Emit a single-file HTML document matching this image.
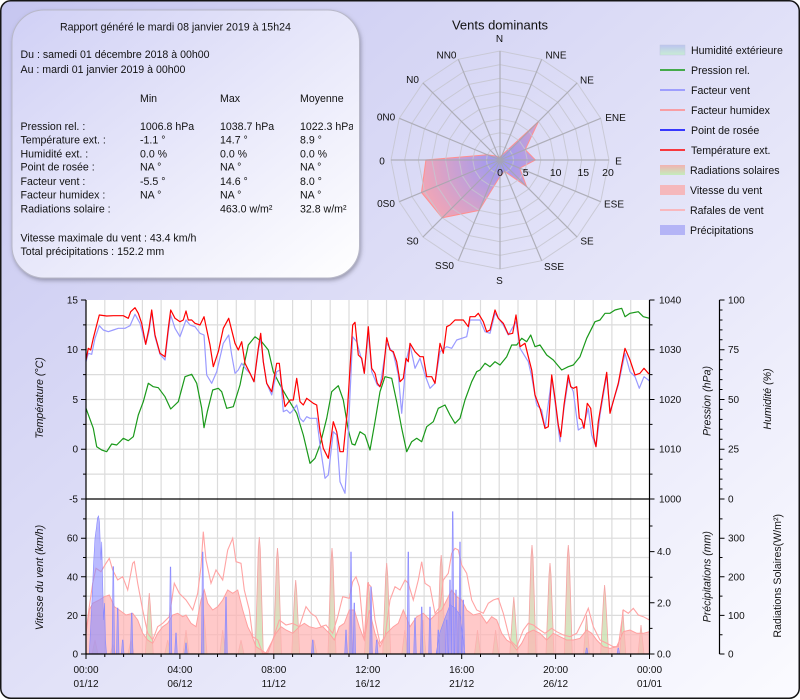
<!DOCTYPE html>
<html><head><meta charset="utf-8">
<style>
html,body{margin:0;padding:0;background:#fff;}
svg{display:block;font-family:"Liberation Sans",Arial,sans-serif;}
</style></head><body>
<svg width="800" height="700" viewBox="0 0 800 700" xmlns="http://www.w3.org/2000/svg">
<defs>
<linearGradient id="bg" x1="0" y1="0" x2="1" y2="1">
<stop offset="0" stop-color="#c6c6f0"/><stop offset="1" stop-color="#fbfbff"/>
</linearGradient>
<linearGradient id="box" x1="0" y1="0" x2="1" y2="1">
<stop offset="0" stop-color="#d0d0f5"/><stop offset="1" stop-color="#ffffff"/>
</linearGradient>
<filter id="sh" x="-10%" y="-10%" width="120%" height="120%"><feDropShadow dx="1" dy="2" stdDeviation="2" flood-color="#606070" flood-opacity="0.55"/></filter>
<radialGradient id="rose" cx="500" cy="160" r="85" gradientUnits="userSpaceOnUse">
<stop offset="0" stop-color="#9a9af5"/><stop offset="1" stop-color="#f4a6b4"/>
</radialGradient>
<linearGradient id="sol" x1="0" y1="540" x2="0" y2="654" gradientUnits="userSpaceOnUse">
<stop offset="0" stop-color="#f8b0b0"/><stop offset="1" stop-color="#c0eab0"/>
</linearGradient>
<linearGradient id="lg1" x1="0" y1="0" x2="0" y2="1">
<stop offset="0" stop-color="#bcc4f0"/><stop offset="1" stop-color="#c8ecd4"/>
</linearGradient>
<linearGradient id="lg7" x1="0" y1="0" x2="0" y2="1">
<stop offset="0" stop-color="#f2b2b2"/><stop offset="1" stop-color="#c4ecbc"/>
</linearGradient>
<polygon id="g16" points="0,-1 .3827,-.9239 .7071,-.7071 .9239,-.3827 1,0 .9239,.3827 .7071,.7071 .3827,.9239 0,1 -.3827,.9239 -.7071,.7071 -.9239,.3827 -1,0 -.9239,-.3827 -.7071,-.7071 -.3827,-.9239" fill="none" stroke="#c6c6d0" stroke-width="1" vector-effect="non-scaling-stroke"/>
<clipPath id="cu"><rect x="86" y="300" width="563.5" height="199"/></clipPath>
<clipPath id="cl"><rect x="86" y="499" width="563.5" height="155"/></clipPath>
<clipPath id="cb"><rect x="12" y="10" width="341" height="270"/></clipPath>
</defs>

<!-- outer frame -->
<rect x="0.75" y="0.75" width="798.5" height="697.5" rx="10" fill="url(#bg)" stroke="#151515" stroke-width="1.5"/>

<!-- info box -->
<rect x="12" y="10" width="347.5" height="268" rx="32" fill="url(#box)" stroke="#b8b8c8" stroke-width="1" filter="url(#sh)"/>
<g font-size="10.6" fill="#111" clip-path="url(#cb)">
<text x="60" y="30.5">Rapport généré le mardi 08 janvier 2019 à 15h24</text>
<text x="20.5" y="58">Du : samedi 01 décembre 2018 à 00h00</text>
<text x="20.5" y="73">Au : mardi 01 janvier 2019 à 00h00</text>
<text x="140" y="102">Min</text><text x="220" y="102">Max</text><text x="300" y="102">Moyenne</text>
<text x="20.5" y="130">Pression rel. :</text><text x="140" y="130">1006.8 hPa</text><text x="220" y="130">1038.7 hPa</text><text x="300" y="130">1022.3 hPa</text>
<text x="20.5" y="143.3">Température ext. :</text><text x="140" y="143.3">-1.1 °</text><text x="220" y="143.3">14.7 °</text><text x="300" y="143.3">8.9 °</text>
<text x="20.5" y="157.3">Humidité ext. :</text><text x="140" y="157.3">0.0 %</text><text x="220" y="157.3">0.0 %</text><text x="300" y="157.3">0.0 %</text>
<text x="20.5" y="170.7">Point de rosée :</text><text x="140" y="170.7">NA °</text><text x="220" y="170.7">NA °</text><text x="300" y="170.7">NA °</text>
<text x="20.5" y="185">Facteur vent :</text><text x="140" y="185">-5.5 °</text><text x="220" y="185">14.6 °</text><text x="300" y="185">8.0 °</text>
<text x="20.5" y="198.3">Facteur humidex :</text><text x="140" y="198.3">NA °</text><text x="220" y="198.3">NA °</text><text x="300" y="198.3">NA °</text>
<text x="20.5" y="212.3">Radiations solaire :</text><text x="220" y="212.3">463.0 w/m²</text><text x="300" y="212.3">32.8 w/m²</text>
<text x="20.5" y="241.7">Vitesse maximale du vent : 43.4 km/h</text>
<text x="20.5" y="255">Total précipitations : 152.2 mm</text>
</g>

<!-- wind rose -->
<text x="500" y="29.5" font-size="13" text-anchor="middle" fill="#111">Vents dominants</text>
<polygon points="500,157.3 502.1,155 538.5,121.5 525.2,149.6 535.4,160 519.7,168.2 526.6,186.6 504.8,171.5 500,176.4 479.1,210.4 442.2,217.8 421.5,192.5 425.9,160 487.4,154.8 496.1,156.1 499,157.5" fill="url(#rose)" stroke="#ff9090" stroke-width="1"/>
<g opacity="0.85">
<use href="#g16" transform="translate(500 160) scale(13.625)"/>
<use href="#g16" transform="translate(500 160) scale(27.25)"/>
<use href="#g16" transform="translate(500 160) scale(40.875)"/>
<use href="#g16" transform="translate(500 160) scale(54.5)"/>
<use href="#g16" transform="translate(500 160) scale(68.125)"/>
<use href="#g16" transform="translate(500 160) scale(81.75)"/>
<use href="#g16" transform="translate(500 160) scale(95.375)"/>
<use href="#g16" transform="translate(500 160) scale(109)"/>
<path d="M500,160L500,51M500,160L541.7,59.3M500,160L577.1,82.9M500,160L600.7,118.3M500,160L609,160M500,160L600.7,201.7M500,160L577.1,237.1M500,160L541.7,260.7M500,160L500,269M500,160L458.3,260.7M500,160L422.9,237.1M500,160L399.3,201.7M500,160L391,160M500,160L399.3,118.3M500,160L422.9,82.9M500,160L458.3,59.3" stroke="#a6a6ae" stroke-width="1.2" fill="none"/>
</g>
<g font-size="10" text-anchor="middle" fill="#111">
<text x="499.5" y="42">N</text>
<text x="556" y="58.5">NNE</text>
<text x="587" y="83.5">NE</text>
<text x="615.5" y="121">ENE</text>
<text x="618.5" y="164.5">E</text>
<text x="614" y="207.5">ESE</text>
<text x="587" y="244.5">SE</text>
<text x="554" y="270">SSE</text>
<text x="499.5" y="284">S</text>
<text x="444.5" y="269">SS0</text>
<text x="412.5" y="244.5">S0</text>
<text x="386" y="207">0S0</text>
<text x="382" y="164.5">0</text>
<text x="386" y="120.5">0N0</text>
<text x="412.5" y="83">N0</text>
<text x="446.5" y="58.5">NN0</text>
</g>
<g font-size="10.5" text-anchor="middle" fill="#111">
<text x="500" y="176">0</text><text x="525.7" y="176">5</text><text x="555.7" y="176">10</text><text x="583.3" y="176">15</text><text x="608" y="176">20</text>
</g>

<!-- legend -->
<rect x="660" y="45" width="25" height="10" fill="url(#lg1)" stroke="#c0c8e0" stroke-width="0.5"/>
<line x1="660" y1="70" x2="685" y2="70" stroke="#119911" stroke-width="1.5"/>
<line x1="660" y1="90" x2="685" y2="90" stroke="#8888ff" stroke-width="1.5"/>
<line x1="660" y1="110" x2="685" y2="110" stroke="#ff8888" stroke-width="1.5"/>
<line x1="660" y1="130" x2="685" y2="130" stroke="#0000ff" stroke-width="1.5"/>
<line x1="660" y1="150" x2="685" y2="150" stroke="#ff0000" stroke-width="1.5"/>
<rect x="660" y="165" width="25" height="10" fill="url(#lg7)"/>
<rect x="660" y="185" width="25" height="10" fill="#f5b8bc"/>
<line x1="660" y1="210" x2="685" y2="210" stroke="#ffaaaa" stroke-width="1.5"/>
<rect x="660" y="225" width="25" height="10" fill="#b4b4f6"/>
<g font-size="10.6" fill="#111">
<text x="691" y="53.8">Humidité extérieure</text>
<text x="691" y="73.8">Pression rel.</text>
<text x="691" y="93.8">Facteur vent</text>
<text x="691" y="113.8">Facteur humidex</text>
<text x="691" y="133.8">Point de rosée</text>
<text x="691" y="153.8">Température ext.</text>
<text x="690" y="173.8">Radiations solaires</text>
<text x="690" y="193.8">Vitesse du vent</text>
<text x="690" y="213.8">Rafales de vent</text>
<text x="690" y="233.8">Précipitations</text>
</g>

<!-- plot backgrounds -->
<rect x="86" y="300" width="563.5" height="354" fill="#ffffff"/>
<!-- grid -->
<path d="M104.8,300V654M123.6,300V654M142.4,300V654M161.1,300V654M179.9,300V654M198.7,300V654M217.5,300V654M236.3,300V654M255.1,300V654M273.8,300V654M292.6,300V654M311.4,300V654M330.2,300V654M349,300V654M367.8,300V654M386.5,300V654M405.3,300V654M424.1,300V654M442.9,300V654M461.7,300V654M480.5,300V654M499.2,300V654M518,300V654M536.8,300V654M555.6,300V654M574.4,300V654M593.2,300V654M611.9,300V654M630.7,300V654M86,324.9H649.5M86,349.75H649.5M86,374.6H649.5M86,399.5H649.5M86,424.4H649.5M86,449.25H649.5M86,474.1H649.5M86,518.9H649.5M86,538.2H649.5M86,557.5H649.5M86,576.8H649.5M86,596.1H649.5M86,615.4H649.5M86,634.7H649.5" stroke="#dcdcdc" stroke-width="1.2" fill="none"/>

<!-- lower panel -->
<g clip-path="url(#cl)">
<path d="M92,654L95,640L98,654ZM110,654L113,645L116,654ZM128,654L131,640L134,654ZM145.3,654L148.3,605L149.3,593L150.3,605L153.3,654ZM164.7,654L167.7,640L170.7,654ZM183,654L186,630L189,654ZM201,654L203,627L204,615L205,627L207,654ZM219.7,654L222.7,630L225.7,654ZM238,654L241,640L244,654ZM255.3,654L258.3,549L259.3,537L260.3,549L263.3,654ZM273.5,654L276.5,560L277.5,548L278.5,560L281.5,654ZM291.7,654L294.7,592L295.7,580L296.7,592L299.7,654ZM311,654L314,640L317,654ZM328,654L331,560L332,548L333,560L336,654ZM347.3,654L350.3,610L353.3,654ZM364.5,654L367.5,594L368.5,582L369.5,594L372.5,654ZM382.7,654L385.7,575L386.7,563L387.7,575L390.7,654ZM401.8,654L404.8,630L407.8,654ZM420,654L423,620L426,654ZM437.2,654L440.2,567L441.2,555L442.2,567L445.2,654ZM456.3,654L459.3,600L462.3,654ZM474.5,654L477.5,630L480.5,654ZM492.6,654L495.6,630L498.6,654ZM509.8,654L512.8,609L513.8,597L514.8,609L517.8,654ZM528,654L531,557L532,545L533,557L536,654ZM546,654L549,575L550,563L551,575L554,654ZM564.3,654L567.3,557L568.3,545L569.3,557L572.3,654ZM583.5,654L586.5,615L589.5,654ZM600.6,654L603.6,597L604.6,585L605.6,597L608.6,654ZM619.8,654L622.8,610L625.8,654ZM638,654L641,625L644,654Z" fill="url(#sol)" fill-opacity="0.8" stroke="#f4a4a4" stroke-width="0.8"/>
<path d="M86,654L86,633.3L89.3,610L92.7,603.3L99.3,600L104.3,596.7L109.3,595L114.3,606.7L119.3,610L126,615L132.7,613.3L137.7,620L142.7,633.3L147.7,640L152.7,643.3L157.7,633.3L162.7,626.7L167.7,623.3L172.7,615L177.7,613.3L182.7,616.7L186,615L191,623.3L196,626.7L201,600L204.3,590L207.7,603.3L212.7,610L217.7,606.7L222.7,600L227.7,590L232.7,593.3L237.7,590L242.7,610L247.7,626.7L251,633.3L256,646.7L261,650L266,653L271,643.3L276,633.3L281,626.7L286,630L292.7,633.3L299.3,626.7L304.3,623.3L309.3,626.7L316,628.3L322.7,626.7L329.3,633.3L334.3,640L339.3,626.7L344.3,623.3L349.3,610L354.3,610L359.3,626.7L364.3,640L369.3,610L375,633.3L380,646.7L386.7,633.3L393.3,626.7L398.3,623.3L403.3,610L410,626.7L416.7,616.7L423.3,613.3L430,620L436.7,613.3L441.7,610L446.7,600L451.7,590L456.7,596.7L461.7,600L466.7,610L473.3,615L480,613.3L486.7,623.3L491.7,616.7L496.7,620L501.7,633.3L506.7,640L511.7,643.3L516.7,650L521.7,643.3L526.7,633.3L533.3,630L540,633.3L546.7,640L553.3,633.3L560,636.7L566.7,640L573.3,640L580,638.3L586.7,630L591.7,633.3L596.7,640L603.3,646.7L610,648.3L616.7,646.7L623.3,631.7L630,630L636.7,633.3L643.3,633.3L649.5,631.7L649.5,654Z" fill="#ffb4b4" fill-opacity="0.72" stroke="#ffa0a0" stroke-width="1"/>
<path d="M86,631.7L89.3,606.7L92.7,583.3L96,568.3L101,571.7L106,563.3L109.3,558.3L112.7,570L117.7,580L122.7,576.7L127.7,590L132.7,563.3L134.3,561.7L137.7,583.3L142.7,610L147.7,633.3L152.7,640L157.7,626.7L162.7,623.3L169.3,616.7L174.3,583.3L179.3,593.3L186,600L192.7,610L197.7,593.3L201,566.7L203.3,531.7L206,560L211,583.3L216,570L222.7,580L227.7,550L232.7,538.3L236,561.7L241,563.3L244.3,590L249.3,610L252.7,636.7L257.7,640L262.7,653.3L267.7,653.3L272.7,640L279.3,620L286,625L292.7,623.3L299.3,626.7L306,606.7L311,613.3L316,616.7L321,626.7L326,625L332.7,633.3L337.7,616.7L342.7,596.7L349.3,598.3L352.7,581.7L356,576.7L359.3,586.7L364.3,640L367.7,583.3L371,586.7L375,620L380,643.3L385,636.7L390,600L395,586.7L400,590L405,580L408.3,583.3L413.3,600L418.3,580L421.7,561.7L425,583.3L430,586.7L435,613.3L440,606.7L443.3,580L448.3,573.3L451.7,553.3L455,548.3L458.3,550L461.7,565L466.7,573.3L471.7,600L476.7,610L483.3,613.3L488.3,603.3L493.3,600L498.3,598.3L503.3,613.3L510,640L516.7,646.7L523.3,630L528.3,623.3L533.3,625L540,630L545,633.3L551.7,628.3L556.7,631.7L563.3,635L570,636.7L576.7,633.3L583.3,620L588.3,608.3L593.3,626.7L600,640L606.7,643.3L613.3,646.7L618.3,646.7L623.3,610L628.3,613.3L633.3,608.3L638.3,615L643.3,616.7L649.5,620" fill="none" stroke="#ffa4a4" stroke-width="1.1"/>
<path d="M89.3,654L90.5,630L92,600L93.5,565L95,538L96.5,527L97.5,518L98.5,516L99.5,522L100.3,545L101,560L101.7,541.7L102.5,575L103.5,620L104.5,603L105.5,640L106.5,654ZM112,654L113,566.7L113.6,566.7L114.6,654ZM116.4,654L117.4,608L118,608L119,654ZM121.4,654L122.4,640L123,640L124,654ZM130.4,654L131.4,613L132,613L133,654ZM169.2,654L170.2,567L170.8,567L171.8,654ZM174.7,654L175.7,633L176.3,633L177.3,654ZM184.7,654L185.7,643L186.3,643L187.3,654ZM201.4,654L202.4,552L203,552L204,654ZM224.7,654L225.7,597L226.3,597L227.3,654ZM311.4,654L312.4,640L313,640L314,654ZM344.7,654L345.7,630L346.3,630L347.3,654ZM349.7,654L350.7,552L351.3,552L352.3,654ZM353,654L354,603L354.6,603L355.6,654ZM369.7,654L370.7,587L371.3,587L372.3,654ZM375.4,654L376.4,640L377,640L378,654ZM407,654L408,552L408.6,552L409.6,654ZM413.7,654L414.7,618L415.3,618L416.3,654ZM420.4,654L421.4,607L422,607L423,654ZM428.7,654L429.7,607L430.3,607L431.3,654ZM437,654L438,630L438.6,630L439.6,654ZM445.4,654L446.4,620L447,620L448,654ZM448.7,654L449.7,580L450.3,580L451.3,654ZM451.4,654L452.4,511.7L453,511.7L454,654ZM454.7,654L455.7,590L456.3,590L457.3,654ZM458.7,654L459.7,542L460.3,542L461.3,654ZM462,654L463,600L463.6,600L464.6,654ZM585.4,654L586.4,648L587,648L588,654ZM617,654L618,648L618.6,648L619.6,654ZM436,654L440,632L445,618L450,605L455,608L460,615L465,654Z" fill="#8c8cff" fill-opacity="0.6" stroke="#8888ff" stroke-width="0.6"/>
</g>

<!-- upper panel series -->
<g clip-path="url(#cu)" fill="none" stroke-width="1.2" stroke-linejoin="round">
<path stroke="#1a991a" d="M86,408.3L93.3,428.3L96.7,446.7L101.7,450L106.7,451.7L111.7,444L116.7,445L123.3,438.3L128.3,440.7L133.3,436.7L138.3,415L143.3,401.7L148.3,383.3L153.3,386.7L158.3,387.7L165,396.7L170.7,409L178.3,401.7L185,376.7L191.7,374.3L196.7,383.3L201.7,408.3L204,427.7L207.3,411.7L212.7,390L218.3,388.3L221.7,391.7L226.7,408.3L233.3,406.7L240,385L243.3,368.3L248.3,345L255,336.7L261.7,341.7L268.3,350L273.3,371.7L280,385L286.7,396.7L296.7,413.3L303.3,435L310,463.3L315,458.3L320,445L326.7,418.3L331.7,391.7L338.3,385.7L343.3,400L348.3,430L352,444L355,445L360,431.7L365,435L370,450L375,421.7L380,391.7L385,376.7L391.7,378.3L396.7,401.7L401.7,428.3L406.7,451.7L411.7,441.7L416.7,438.3L421.7,441.7L426.7,426.7L433.3,421.7L438.3,408.3L445,405L450,415L455,423.3L460,418.3L465,400L471.7,381.7L476.7,371.7L480,370L485,363.3L490,366.7L495,361.7L500,365L506.7,356.7L511.7,345L516.7,345L521.7,338.3L526.7,341.7L530.7,335L535,346.7L540,345L546.7,355L553.3,360L561.7,370L568.3,366.7L573.3,365L580,356.7L586.7,338.3L595,321.7L600,320L605,313.3L610,313.3L615,310L621.7,308.3L625,316.7L630,313.3L638.3,311.7L643.3,316.7L649.5,318.3"/>
<path stroke="#9a9aff" d="M86,361.7L88.3,353.3L91.7,354.3L95,338.3L99.3,325.7L103.3,330L108.3,331.7L113.3,330L118.3,328.3L125,328.3L130,325.7L135,314.3L140,323.3L145.7,344.3L149,331.7L151.7,311.7L155,336.7L160,354.3L165,360L168.3,331.7L170.7,315L175,328.3L180,336.7L186,320L190,325L195,326.7L200,333.3L204,335L206.7,375L211.7,383.3L216.7,371.7L223.3,343.3L228.7,335L231.7,355L235,373.3L238.3,370L241.7,363.3L246.7,370L250,373.3L254,381.7L258.3,350L260.7,338.3L263.3,361.7L266.7,383.3L271.7,395L276.7,371.7L280,370L283.3,411.7L286.7,410L290,413.3L293.3,410L296.7,405L300,418.3L303.3,421.7L306.7,416.7L310,418.3L316.7,418.3L320,445L325,478.3L328.3,475L333.3,431.7L336.7,435L340,481.7L345,493.3L347.3,455L350,395L352.7,336.7L356.7,341.7L361.7,360L364.3,373.3L368.3,331.7L371.7,371.7L377.3,385L380,386.7L386.7,343.3L393.3,353.3L398.3,375L401.7,413.3L406,361.7L410,345L415,368.3L420,358.3L425,375L430,388.3L435,383.3L440,351.7L446.7,346.7L451.7,348.3L456.7,340L466.7,336.7L470,320L480,320L485,331.7L490,333.3L495,313.3L503.3,325L508.3,335L516,321.7L520,348.3L528.3,361.7L531.7,376.7L536.7,405L541.7,410L545,428.3L551.7,378.3L555,401.7L560,441.7L564,408.3L568.3,380L573.3,391.7L578.3,430L583.3,426.7L588.3,408.3L591.7,435L596,446.7L600,415L606.7,375L610,411.7L618.3,385L625,353.3L630,371.7L635,376.7L639.3,388.3L644,376.7L648.3,380L649.5,381"/>
<path stroke="#ff0000" d="M86,360L88.3,348.3L90.7,350L93.3,338.3L96.7,325L99.3,315L106.7,316L113.3,315.7L123.3,315.7L128.3,318.3L130.7,311.7L135,307.7L138.3,313.3L141.7,323.3L145.7,344.3L149,328.3L151.7,310L155,335L160,353.3L165,356.7L168.3,328.3L170.7,310L175,318.3L180,321.7L183.3,320L186,311L188.3,320L191.7,320L195,323.3L200,325L204,316.7L210,345L213.3,366.7L218.3,351.7L223.3,328.3L228.7,318.3L235,343.3L238.3,350L241.7,341.7L245,363.3L250,373.3L254,381.7L258.3,348.3L260.7,333.3L263.3,361.7L266.7,383.3L271.7,391.7L276.7,363.3L279.3,363.3L281.7,385L285,406.7L290,400L293.3,400L296.7,378.3L300,401.7L303.3,405L306.7,398.3L313.3,403.3L316.7,405L320,431.7L323.3,448.3L328.3,458.3L333.3,421.7L336.7,431.7L340,451.7L343.3,451.7L347.3,411.7L352.7,325L355,322.3L358.3,355L361.7,358.3L364.3,373.3L368.3,326.7L371.7,368.3L375,373.3L377.3,383.3L380,386.7L382.7,378.3L386.7,337.7L390,350L393.3,351.7L396.7,361.7L400,381.7L403.3,378.3L406,358.3L408.3,361.7L410,343.3L415,351.7L420,356.7L423.3,356.7L426.7,376.7L431.7,376.7L435,383.3L440,343.3L443.3,353.3L446.7,326.7L450,325L455,320L463.3,320L468.3,326.7L470,316.7L475,316.7L478.3,313.3L483.3,321.7L486.7,331.7L490,330L495,310L498.3,318.3L503.3,323.3L508.3,334.3L512.7,333.3L516,315L520,346.7L525,343.3L528.3,356.7L531.7,370L535,395L540,408.3L545,428.3L548.3,426.7L551.7,375L555,398.3L558.3,425L560.7,436.7L564,405L568.3,375L570.7,386.7L573.3,388.3L576.7,386.7L579.3,418.3L581.7,420L584,428.3L587.3,403.3L590.7,408.3L594,438.3L596,446.7L598.3,421.7L603.3,391.7L606.7,372.3L610,413.3L615,395L618.3,383.3L621.7,365L625,348.3L630,360L635,375L640,373.3L644,368.3L648.3,373.3L649.5,374"/>
</g>

<!-- axes -->
<path d="M86,300V654M649.5,300V654M719.5,300V654M86,499H649.5M86,654H649.5" stroke="#000" stroke-width="1.2" fill="none"/>
<path d="M81,300H86M81,349.75H86M81,399.5H86M81,449.25H86M81,499H86M83,324.9H86M83,374.6H86M83,424.4H86M83,474.1H86M81,538.2H86M81,576.8H86M81,615.4H86M81,654H86M83,518.9H86M83,557.5H86M83,596.1H86M83,634.7H86M649.5,300H654.5M649.5,349.75H654.5M649.5,399.5H654.5M649.5,449.25H654.5M649.5,499H654.5M649.5,324.9H652.5M649.5,374.6H652.5M649.5,424.4H652.5M649.5,474.1H652.5M649.5,654H654.5M649.5,602.8H654.5M649.5,551.6H654.5M649.5,628.4H652.5M649.5,577.2H652.5M649.5,526H652.5M719.5,300H724.5M719.5,349.75H724.5M719.5,399.5H724.5M719.5,449.25H724.5M719.5,499H724.5M719.5,310H722.5M719.5,320H722.5M719.5,329.9H722.5M719.5,339.8H722.5M719.5,359.7H722.5M719.5,369.6H722.5M719.5,379.6H722.5M719.5,389.5H722.5M719.5,409.4H722.5M719.5,419.4H722.5M719.5,429.3H722.5M719.5,439.3H722.5M719.5,459.2H722.5M719.5,469.1H722.5M719.5,479.1H722.5M719.5,489H722.5M719.5,654H724.5M719.5,615.4H724.5M719.5,576.8H724.5M719.5,538.2H724.5M719.5,634.7H722.5M719.5,596.1H722.5M719.5,557.5H722.5M719.5,518.9H722.5M86,654V659M179.9,654V659M273.8,654V659M367.8,654V659M461.7,654V659M555.6,654V659M649.5,654V659M104.8,654V657M123.6,654V657M142.4,654V657M161.1,654V657M198.7,654V657M217.5,654V657M236.3,654V657M255.1,654V657M292.6,654V657M311.4,654V657M330.2,654V657M349,654V657M386.5,654V657M405.3,654V657M424.1,654V657M442.9,654V657M480.5,654V657M499.2,654V657M518,654V657M536.8,654V657M574.4,654V657M593.2,654V657M611.9,654V657M630.7,654V657" stroke="#000" stroke-width="1" fill="none"/>

<!-- tick labels -->
<g font-size="10" fill="#111">
<g text-anchor="end">
<text x="78" y="303.5">15</text><text x="78" y="353.2">10</text><text x="78" y="403">5</text><text x="78" y="452.7">0</text><text x="78" y="502.5">-5</text>
<text x="78" y="541.7">60</text><text x="78" y="580.3">40</text><text x="78" y="618.9">20</text><text x="78" y="657.5">0</text>
</g>
<text x="659" y="303.5">1040</text><text x="659" y="353.2">1030</text><text x="659" y="403">1020</text><text x="659" y="452.7">1010</text><text x="659" y="502.5">1000</text>
<text x="657" y="555.1">4.0</text><text x="657" y="606.3">2.0</text><text x="657" y="657.5">0.0</text>
<text x="728" y="303.5">100</text><text x="728" y="353.2">75</text><text x="728" y="403">50</text><text x="728" y="452.7">25</text><text x="728" y="502.5">0</text>
<text x="728" y="541.7">300</text><text x="728" y="580.3">200</text><text x="728" y="618.9">100</text><text x="728" y="657.5">0</text>
<g text-anchor="middle">
<text x="86" y="673">00:00</text><text x="179.9" y="673">04:00</text><text x="273.8" y="673">08:00</text><text x="367.8" y="673">12:00</text><text x="461.7" y="673">16:00</text><text x="555.6" y="673">20:00</text><text x="649.5" y="673">00:00</text>
<text x="86" y="687">01/12</text><text x="179.9" y="687">06/12</text><text x="273.8" y="687">11/12</text><text x="367.8" y="687">16/12</text><text x="461.7" y="687">21/12</text><text x="555.6" y="687">26/12</text><text x="649.5" y="687">01/01</text>
</g>
</g>

<!-- axis titles -->
<g font-size="10.6" fill="#111" text-anchor="middle">
<text transform="translate(43 398) rotate(-90)" font-style="italic">Température (°C)</text>
<text transform="translate(710.5 401) rotate(-90)" font-style="italic">Pression (hPa)</text>
<text transform="translate(771 399) rotate(-90)" font-style="italic">Humidité (%)</text>
<text transform="translate(43 577.5) rotate(-90)" font-style="italic">Vitesse du vent (km/h)</text>
<text transform="translate(710.5 576.7) rotate(-90)" font-style="italic">Précipitations (mm)</text>
<text transform="translate(781 575.8) rotate(-90)">Radiations Solaires(W/m²)</text>
</g>
</svg>
</body></html>
